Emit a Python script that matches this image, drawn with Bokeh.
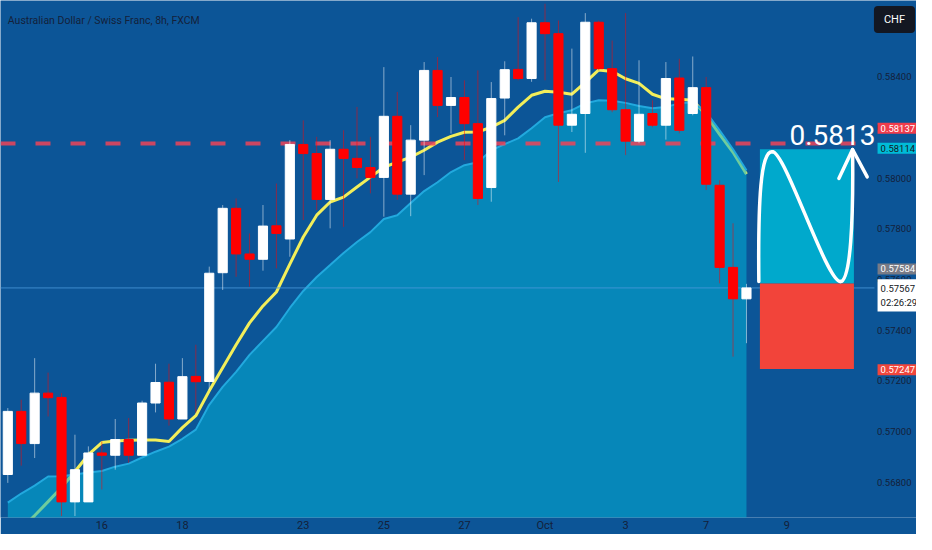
from bokeh.plotting import figure
from bokeh.models import Range1d, FixedTicker, Label, ColumnDataSource
from bokeh.core.properties import value
from bokeh.embed import file_html
from bokeh.resources import INLINE

# ---------------- data ----------------
title_text = "Australian Dollar / Swiss Franc, 8h, FXCM"
candle_index = list(range(56))
opens = [0.56831, 0.57080, 0.56953, 0.57152, 0.57135, 0.56723, 0.56723, 0.56916, 0.56907, 0.56969,
         0.56907, 0.57113, 0.57195, 0.57050, 0.57218, 0.57198, 0.57627, 0.57881, 0.57701, 0.57680,
         0.57812, 0.57760, 0.58133, 0.58097, 0.57916, 0.58114, 0.58078, 0.58042, 0.58003, 0.58244,
         0.57937, 0.58150, 0.58425, 0.58287, 0.58318, 0.58215, 0.57963, 0.58316, 0.58429, 0.58393,
         0.58613, 0.58570, 0.58209, 0.58255, 0.58615, 0.58432, 0.58270, 0.58146, 0.58255, 0.58209,
         0.58395, 0.58255, 0.58357, 0.57972, 0.57648, 0.57524]
highs = [0.57093, 0.57126, 0.57290, 0.57233, 0.57152, 0.56988, 0.56942, 0.56962, 0.57050, 0.57054,
         0.57122, 0.57268, 0.57268, 0.57290, 0.57343, 0.57651, 0.57894, 0.57920, 0.57782, 0.57894,
         0.57979, 0.58150, 0.58228, 0.58163, 0.58150, 0.58189, 0.58281, 0.58163, 0.58438, 0.58340,
         0.58209, 0.58458, 0.58478, 0.58399, 0.58386, 0.58425, 0.58379, 0.58461, 0.58635, 0.58629,
         0.58688, 0.58622, 0.58511, 0.58651, 0.58622, 0.58543, 0.58651, 0.58465, 0.58307, 0.58458,
         0.58471, 0.58480, 0.58399, 0.57992, 0.57822, 0.57583]
lows = [0.56798, 0.56866, 0.56896, 0.57060, 0.56667, 0.56667, 0.56723, 0.56772, 0.56850, 0.56877,
        0.56907, 0.57076, 0.57024, 0.57050, 0.57075, 0.57165, 0.57559, 0.57611, 0.57572, 0.57635,
        0.57644, 0.57690, 0.57835, 0.57874, 0.57802, 0.57808, 0.57999, 0.57940, 0.57848, 0.57915,
        0.57850, 0.58012, 0.58241, 0.58176, 0.58071, 0.57894, 0.57907, 0.58169, 0.58386, 0.58380,
        0.58386, 0.57985, 0.58182, 0.58100, 0.58425, 0.58260, 0.58091, 0.58138, 0.58201, 0.58152,
        0.58177, 0.58248, 0.57953, 0.57585, 0.57296, 0.57349]
closes = [0.57080, 0.56953, 0.57152, 0.57134, 0.56723, 0.56850, 0.56916, 0.56907, 0.56969, 0.56907,
          0.57113, 0.57194, 0.57050, 0.57217, 0.57197, 0.57625, 0.57881, 0.57701, 0.57680, 0.57811,
          0.57782, 0.58133, 0.58097, 0.57916, 0.58114, 0.58078, 0.58042, 0.58003, 0.58244, 0.57937,
          0.58150, 0.58425, 0.58287, 0.58318, 0.58215, 0.57920, 0.58314, 0.58428, 0.58393, 0.58613,
          0.58570, 0.58209, 0.58252, 0.58615, 0.58432, 0.58270, 0.58146, 0.58252, 0.58209, 0.58393,
          0.58189, 0.58357, 0.57976, 0.57648, 0.57524, 0.57567]
ema_values = [0.56567, 0.56618, 0.56669, 0.56724, 0.56780, 0.56843, 0.56909, 0.56957, 0.56963, 0.56966,
              0.56967, 0.56967, 0.56961, 0.57016, 0.57063, 0.57161, 0.57252, 0.57343, 0.57429, 0.57496,
              0.57551, 0.57661, 0.57768, 0.57854, 0.57906, 0.57925, 0.57965, 0.58004, 0.58043, 0.58063,
              0.58083, 0.58110, 0.58142, 0.58165, 0.58181, 0.58182, 0.58201, 0.58228, 0.58280, 0.58327,
              0.58343, 0.58339, 0.58331, 0.58378, 0.58427, 0.58421, 0.58392, 0.58374, 0.58331, 0.58313,
              0.58311, 0.58307, 0.58248, 0.58173, 0.58102, 0.58016]
ma_values = [0.56720, 0.56756, 0.56787, 0.56823, 0.56824, 0.56831, 0.56839, 0.56845, 0.56862, 0.56874,
             0.56898, 0.56921, 0.56941, 0.56972, 0.57008, 0.57106, 0.57177, 0.57236, 0.57303, 0.57358,
             0.57413, 0.57488, 0.57555, 0.57610, 0.57657, 0.57705, 0.57748, 0.57787, 0.57839, 0.57854,
             0.57902, 0.57949, 0.57984, 0.58024, 0.58051, 0.58063, 0.58110, 0.58134, 0.58157, 0.58197,
             0.58240, 0.58256, 0.58268, 0.58295, 0.58307, 0.58305, 0.58297, 0.58285, 0.58276, 0.58281,
             0.58295, 0.58299, 0.58260, 0.58189, 0.58114, 0.58031]
time_tick_index = [7, 13, 22, 28, 34, 40, 46, 52, 58]
time_tick_labels = ["16", "18", "23", "25", "27", "Oct", "3", "7", "9"]
price_ticks = [0.568, 0.570, 0.572, 0.574, 0.576, 0.578, 0.580, 0.582, 0.584]

resistance_level = 0.58137
current_price = 0.57567
entry_price = 0.57584
target_price = 0.58114
stop_price = 0.57247
countdown = "02:26:29"
currency = "CHF"
target_text = "0.5813"
projection_start = 56
projection_end = 63

# hand-drawn projection sketch (bezier segments, candle-index / price units)
sketch_x0 = [55.92, 56.94, 62.00]
sketch_y0 = [0.57592, 0.58104, 0.57592]
sketch_x1 = [56.94, 62.00, 62.90]
sketch_y1 = [0.58104, 0.57592, 0.58113]
sketch_cx0 = [55.86, 57.91, 62.75]
sketch_cy0 = [0.57913, 0.58102, 0.57591]
sketch_cx1 = [56.05, 60.96, 62.97]
sketch_cy1 = [0.58110, 0.57591, 0.57835]
arrow_x = [61.88, 62.90, 63.99]
arrow_y = [0.57999, 0.58113, 0.58005]

# ---------------- layout (candle-index units on x, price on y) ----------------
X_START, X_END = -0.5436, 67.66
Y_BOTTOM, Y_TOP = 0.5666142, 0.5870079
line_end_x = 64.53        # where the horizontal level lines stop (price scale begins)
scale_label_x = 67.29     # right edge of the price-scale tick labels
tag_x = 64.76             # left edge of the price-tag texts
tag_resist_y = 0.581969
tag_target_y = 0.581181
tag_entry_y = 0.576417
tag_last_y = 0.575374
tag_stop_y = 0.572441
tag_cur_x = 66.02
tag_cur_y = 0.58626
title_x = 0.0
title_y = 0.58622
target_text_x = 58.20
target_text_y = 0.581693

BG = "#0c5597"
AXIS_TXT = "#14213a"
FONT = "Roboto"

p = figure(width=916, height=534, output_backend="svg", toolbar_location=None,
           x_range=Range1d(X_START, X_END), y_range=Range1d(Y_BOTTOM, Y_TOP),
           y_axis_location=None, min_border_left=0, min_border_top=0,
           min_border_right=0, min_border_bottom=16)
p.background_fill_color = BG
p.border_fill_color = BG
p.outline_line_color = None
p.grid.visible = False

p.xaxis.ticker = FixedTicker(ticks=time_tick_index)
p.xaxis.major_label_overrides = {t: s for t, s in zip(time_tick_index, time_tick_labels)}
p.xaxis.axis_line_color = None
p.xaxis.major_tick_line_color = None
p.xaxis.minor_tick_line_color = None
p.xaxis.major_tick_out = 0
p.xaxis.major_tick_in = 0
p.xaxis.major_label_text_color = AXIS_TXT
p.xaxis.major_label_text_font = FONT
p.xaxis.major_label_text_font_size = "11px"
p.xaxis.major_label_standoff = 1

# EMA (below the translucent MA area)
p.line(candle_index, ema_values, line_color="#f2ee5a", line_width=3)

# MA area
p.varea(x=candle_index, y1=[Y_BOTTOM - 0.01] * len(candle_index), y2=ma_values,
        fill_color="#01b0d5", fill_alpha=0.55)
p.line(candle_index, ma_values, line_color="#22a9de", line_width=2)

# current price line and resistance dashed line
p.segment(x0=[X_START], x1=[line_end_x], y0=[current_price], y1=[current_price],
          line_color="#4b98dc", line_width=1, line_alpha=0.8)
p.segment(x0=[X_START], x1=[line_end_x], y0=[resistance_level], y1=[resistance_level],
          line_color="#ee4458", line_width=4, line_alpha=0.85, line_dash="15 20")

# candles
up = [c >= o for o, c in zip(opens, closes)]
src = ColumnDataSource(dict(
    x=candle_index, o=opens, h=highs, l=lows, c=closes,
    top=[max(o, c) for o, c in zip(opens, closes)],
    bottom=[min(o, c) for o, c in zip(opens, closes)],
    color=["#ffffff" if u else "#ff0000" for u in up]))
p.segment(x0="x", y0="h", x1="x", y1="l", line_color="color", line_alpha=0.5,
          line_width=1, source=src)
p.vbar(x="x", width=0.68, top="top", bottom="bottom", fill_color="color",
       line_color="color", line_width=1, source=src)

# projection boxes
p.quad(left=[projection_start], right=[projection_end], bottom=[entry_price], top=[target_price],
       fill_color="#00a9cc", line_color=None)
p.quad(left=[projection_start], right=[projection_end], bottom=[stop_price], top=[entry_price],
       fill_color="#f2443a", line_color=None)

# sketch
p.bezier(x0=sketch_x0, y0=sketch_y0, x1=sketch_x1, y1=sketch_y1,
         cx0=sketch_cx0, cy0=sketch_cy0, cx1=sketch_cx1, cy1=sketch_cy1,
         line_color="white", line_width=3.5, line_cap="round")
p.line(arrow_x, arrow_y, line_color="white", line_width=3.5, line_cap="round", line_join="round")

# price scale tick labels
p.text(x=[scale_label_x] * len(price_ticks), y=price_ticks,
       text=[f"{t:.5f}" for t in price_ticks], text_font=value(FONT),
       text_font_size="9.5px", text_color=AXIS_TXT, text_align="right",
       text_baseline="middle")

# texts
p.add_layout(Label(x=title_x, y=title_y, text=title_text, text_font=FONT,
                   text_font_size="10.5px", text_color="#14213a",
                   text_align="left", text_baseline="middle"))
p.add_layout(Label(x=target_text_x, y=target_text_y, text=target_text, text_font=FONT,
                   text_font_size="28px", text_color="white",
                   text_align="left", text_baseline="alphabetic"))


def tag(y, text, bg, fg, pad_v=2, pad_h=3):
    return Label(x=tag_x, y=y, text=text, text_font=FONT, text_font_size="9.5px",
                 text_color=fg, text_align="left", text_baseline="middle",
                 background_fill_color=bg,
                 padding=dict(left=pad_h, right=pad_h, top=pad_v, bottom=pad_v))


p.add_layout(tag(tag_resist_y, f"{resistance_level:.5f}", "#f03c4c", "white"))
p.add_layout(tag(tag_target_y, f"{target_price:.5f}", "#00bcd8", "#131722"))
p.add_layout(tag(tag_entry_y, f"{entry_price:.5f}", "#787b86", "white"))
p.add_layout(tag(tag_last_y, f"{current_price:.5f}\n{countdown}", "white", "#131722", pad_v=4, pad_h=3))
p.add_layout(tag(tag_stop_y, f"{stop_price:.5f}", "#f0463c", "white"))
p.add_layout(Label(x=tag_cur_x, y=tag_cur_y, text=currency, text_font=FONT,
                   text_font_size="11px", text_color="white", text_align="center",
                   text_baseline="middle", background_fill_color="#131722",
                   border_radius=4, padding=dict(left=10, right=10, top=7, bottom=7)))

open("out.html", "w").write(file_html(p, INLINE))
